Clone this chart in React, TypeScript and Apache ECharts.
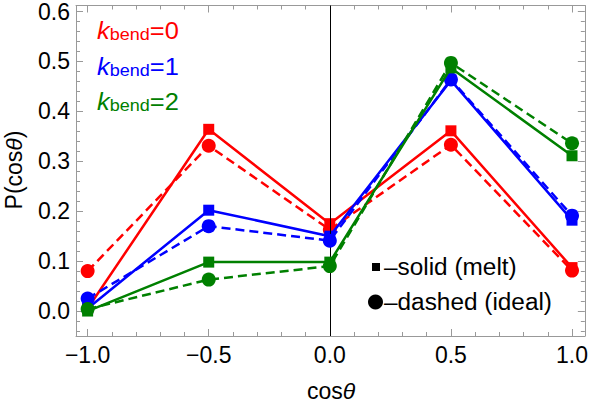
import React, { useEffect, useRef } from "react";
import * as echarts from "echarts";

const cosTheta = [-1, -0.5, 0, 0.5, 1];
const k0Melt = [0.005, 0.364, 0.175, 0.361, 0.087];
const k0Ideal = [0.08, 0.331, 0.163, 0.333, 0.081];
const k1Melt = [0.005, 0.202, 0.15, 0.462, 0.182];
const k1Ideal = [0.025, 0.17, 0.141, 0.464, 0.191];
const k2Melt = [0.0, 0.098, 0.098, 0.487, 0.311];
const k2Ideal = [0.004, 0.063, 0.09, 0.497, 0.336];

const xMajorTicks = [-1, -0.5, 0, 0.5, 1];
const xMinorTicks = [-0.9, -0.8, -0.7, -0.6, -0.4, -0.3, -0.2, -0.1, 0.1, 0.2, 0.3, 0.4, 0.6, 0.7, 0.8, 0.9];
const yMajorTicks = [0, 0.1, 0.2, 0.3, 0.4, 0.5, 0.6];
const yMinorTicks = [
  -0.04, -0.02, 0.02, 0.04, 0.06, 0.08, 0.12, 0.14, 0.16, 0.18, 0.22, 0.24, 0.26, 0.28,
  0.32, 0.34, 0.36, 0.38, 0.42, 0.44, 0.46, 0.48, 0.52, 0.54, 0.56, 0.58,
];

const X_MIN = -1.048;
const X_MAX = 1.053;
const Y_MIN = -0.05;
const Y_MAX = 0.612;

const FONT = '"Liberation Sans", Arial, sans-serif';
const FRAME = "#999999";
const RED = "#ff0000";
const BLUE = "#0000ff";
const GREEN = "#008000";

function fmt(v: number) {
  return v.toFixed(1).replace("-", "\u2212");
}

function makeX(position: "bottom" | "top", ticks: number[], len: number, labels: boolean, line: boolean) {
  return {
    type: "value",
    position,
    min: X_MIN,
    max: X_MAX,
    axisLine: { show: line, onZero: false, lineStyle: { color: FRAME, width: 1 } },
    axisTick: { show: true, inside: true, length: len, customValues: ticks, lineStyle: { color: FRAME, width: 1 } },
    axisLabel: labels
      ? { show: true, customValues: ticks, formatter: (v: number) => fmt(v), color: "#000", fontSize: 23, fontFamily: FONT, margin: 7 }
      : { show: false },
    splitLine: { show: false },
  };
}

function makeY(position: "left" | "right", ticks: number[], len: number, labels: boolean, line: boolean) {
  return {
    type: "value",
    position,
    min: Y_MIN,
    max: Y_MAX,
    axisLine: { show: line, onZero: false, lineStyle: { color: FRAME, width: 1 } },
    axisTick: { show: true, inside: true, length: len, customValues: ticks, lineStyle: { color: FRAME, width: 1 } },
    axisLabel: labels
      ? { show: true, customValues: ticks, formatter: (v: number) => v.toFixed(1), color: "#000", fontSize: 23, fontFamily: FONT, margin: 6 }
      : { show: false },
    splitLine: { show: false },
  };
}

function lineSeries(name: string, values: number[], color: string, dashed: boolean, z: number) {
  return {
    name,
    type: "line",
    xAxisIndex: 0,
    yAxisIndex: 0,
    data: cosTheta.map((x, i) => [x, values[i]]),
    symbol: dashed ? "circle" : "rect",
    symbolSize: dashed ? 14 : 11,
    showSymbol: true,
    itemStyle: { color },
    lineStyle: { color, width: 2.5, type: dashed ? [9, 5] : "solid" },
    z,
  };
}

function kLabel(n: string, color: string, y: number) {
  const base = { fill: color, fontFamily: FONT };
  return {
    type: "text",
    x: 97,
    y,
    scaleX: 1.06,
    style: {
      text: `{k|k}{b|bend}{n|=${n}}`,
      textAlign: "left",
      textVerticalAlign: "middle",
      fill: color,
      font: `23px ${FONT}`,
      rich: {
        k: { ...base, fontSize: 24, fontStyle: "italic", lineHeight: 24 },
        b: { ...base, fontSize: 17, lineHeight: 16, verticalAlign: "bottom" },
        n: { ...base, fontSize: 24, lineHeight: 24 },
      },
    },
  };
}

export default function App() {
  const ref = useRef<HTMLDivElement>(null);
  useEffect(() => {
    document.body.style.margin = "0";
    if (!ref.current) return;
    const chart = echarts.init(ref.current, undefined, { renderer: "svg" });
    chart.setOption({
      animation: false,
      backgroundColor: "#ffffff",
      grid: { left: 76, right: 3, top: 4, bottom: 68, containLabel: false },
      xAxis: [
        makeX("bottom", xMajorTicks, 7, true, true),
        makeX("bottom", xMinorTicks, 4, false, false),
        makeX("top", xMajorTicks, 7, false, true),
        makeX("top", xMinorTicks, 4, false, false),
      ],
      yAxis: [
        makeY("left", yMajorTicks, 7, true, true),
        makeY("left", yMinorTicks, 4, false, false),
        makeY("right", yMajorTicks, 7, false, true),
        makeY("right", yMinorTicks, 4, false, false),
      ],
      series: [
        lineSeries("k0 melt", k0Melt, RED, false, 2),
        lineSeries("k0 ideal", k0Ideal, RED, true, 3),
        lineSeries("k1 melt", k1Melt, BLUE, false, 4),
        lineSeries("k1 ideal", k1Ideal, BLUE, true, 5),
        lineSeries("k2 melt", k2Melt, GREEN, false, 6),
        lineSeries("k2 ideal", k2Ideal, GREEN, true, 7),
        {
          type: "line",
          xAxisIndex: 0,
          yAxisIndex: 0,
          data: [],
          z: 20,
          markLine: {
            silent: true,
            symbol: ["none", "none"],
            label: { show: false },
            lineStyle: { color: "#000", width: 1, type: "solid" },
            data: [{ xAxis: 0 }],
          },
        },
      ],
      graphic: [
        {
          type: "text",
          x: 14,
          y: 170,
          rotation: Math.PI / 2,
          style: {
            text: "P(cos{i|θ})",
            textAlign: "center",
            textVerticalAlign: "middle",
            fill: "#000",
            font: `23px ${FONT}`,
            rich: { i: { fill: "#000", fontFamily: FONT, fontSize: 23, fontStyle: "italic" } },
          },
        },
        {
          type: "text",
          x: 331,
          y: 391,
          style: {
            text: "cos{i|θ}",
            textAlign: "center",
            textVerticalAlign: "middle",
            fill: "#000",
            font: `23px ${FONT}`,
            rich: { i: { fill: "#000", fontFamily: FONT, fontSize: 23, fontStyle: "italic" } },
          },
        },
        kLabel("0", RED, 31),
        kLabel("1", BLUE, 66.5),
        kLabel("2", GREEN, 102),
        { type: "rect", shape: { x: 372, y: 263, width: 8, height: 8 }, style: { fill: "#000" } },
        {
          type: "text",
          x: 384,
          y: 267,
          scaleX: 1.06,
          style: { text: "\u2013solid (melt)", textAlign: "left", textVerticalAlign: "middle", fill: "#000", font: `23px ${FONT}` },
        },
        { type: "circle", shape: { cx: 375.5, cy: 302, r: 7.5 }, style: { fill: "#000" } },
        {
          type: "text",
          x: 384,
          y: 302,
          scaleX: 1.06,
          style: { text: "\u2013dashed (ideal)", textAlign: "left", textVerticalAlign: "middle", fill: "#000", font: `23px ${FONT}` },
        },
      ],
    });
    return () => chart.dispose();
  }, []);
  return <div ref={ref} style={{ width: 591, height: 404 }} />;
}
